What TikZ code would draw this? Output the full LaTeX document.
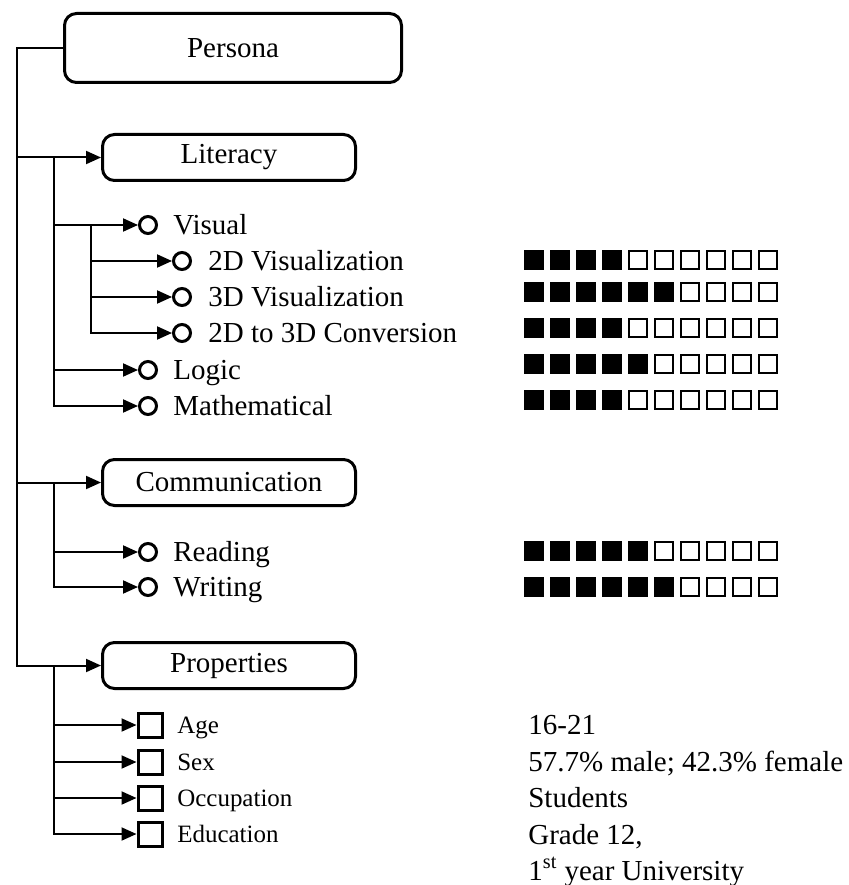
\documentclass[tikz,border=0pt]{standalone}
\usepackage{fontspec}
\setmainfont{Liberation Serif}
\usetikzlibrary{arrows.meta}

\tikzstyle{box}=[draw,rounded corners=0.24cm,line width=0.06cm,minimum width=5.06cm,minimum height=0.92cm,inner sep=0,font=\fontsize{16.5}{19}\selectfont]
\tikzstyle{link}=[line width=0.04cm,-{Triangle[length=0.3cm,width=0.26cm]}]
\tikzstyle{dot}=[draw,circle,line width=0.06cm,minimum size=0.34cm,inner sep=0]
\tikzstyle{tick}=[draw,rectangle,line width=0.06cm,minimum size=0.48cm,inner sep=0]
\tikzstyle{txt}=[anchor=base west,inner sep=0,font=\fontsize{16.5}{19}\selectfont]
\tikzstyle{small}=[anchor=base west,inner sep=0,font=\fontsize{14.2}{17}\selectfont]
\tikzstyle{full}=[draw,fill=black,line width=0.04cm,minimum size=0.36cm,inner sep=0]
\tikzstyle{empty}=[draw,line width=0.04cm,minimum size=0.36cm,inner sep=0]

% one row of ten squares: name, y, number of filled squares
\newcommand{\ratingrow}[3]{%
  \foreach \i in {1,...,10}{%
    \ifnum\i>#3
      \node[empty] (#1-\i) at ({10.68+0.52*(\i-1)},#2) {};
    \else
      \node[full] (#1-\i) at ({10.68+0.52*(\i-1)},#2) {};
    \fi}}

\begin{document}
\begin{tikzpicture}
\useasboundingbox (0,0) rectangle (16.96,-17.70);

\node[box,minimum width=6.74cm,minimum height=1.38cm] at (4.66,-0.96) (persona) {Persona};
\node[box] at (4.58,-3.15)  (lit)  {Literacy};
\node[box] at (4.58,-9.65)  (comm) {Communication};
\node[box] at (4.58,-13.31) (prop) {Properties};
\draw[link] (persona.west) -- +(-0.93,0) |- (lit.west);
\draw[link] (persona.west) -- +(-0.93,0) |- (comm.west);
\draw[link] (persona.west) -- +(-0.93,0) |- (prop.west);

% literacy
\node[dot] at (2.96,-4.50) (visual) {};
\node[dot] at (3.64,-5.22) (viz2d)  {};
\node[dot] at (3.64,-5.94) (viz3d)  {};
\node[dot] at (3.64,-6.66) (conv)   {};
\node[dot] at (2.96,-7.40) (logic)  {};
\node[dot] at (2.96,-8.12) (math)   {};
\node[txt] at (3.46,-4.69) (visual-t) {Visual};
\node[txt] at (4.16,-5.41) (viz2d-t)  {2D Visualization};
\node[txt] at (4.16,-6.13) (viz3d-t)  {3D Visualization};
\node[txt] at (4.16,-6.85) (conv-t)   {2D to 3D Conversion};
\node[txt] at (3.46,-7.59) (logic-t)  {Logic};
\node[txt] at (3.46,-8.31) (math-t)   {Mathematical};
\draw[link] (lit.west) ++(-0.94,0) |- (visual);
\draw[link] (lit.west) ++(-0.94,0) |- (logic);
\draw[link] (lit.west) ++(-0.94,0) |- (math);
\draw[link] (visual.west) ++(-0.94,0) |- (viz2d);
\draw[link] (visual.west) ++(-0.94,0) |- (viz3d);
\draw[link] (visual.west) ++(-0.94,0) |- (conv);

% communication
\node[dot] at (2.96,-11.04) (reading) {};
\node[dot] at (2.96,-11.74) (writing) {};
\node[txt] at (3.46,-11.23) (reading-t) {Reading};
\node[txt] at (3.46,-11.93) (writing-t) {Writing};
\draw[link] (comm.west) ++(-0.94,0) |- (reading);
\draw[link] (comm.west) ++(-0.94,0) |- (writing);

% properties
\node[tick] at (3.0,-14.50) (age) {};
\node[tick] at (3.0,-15.24) (sex) {};
\node[tick] at (3.0,-15.96) (occ) {};
\node[tick] at (3.0,-16.68) (edu) {};
\node[small] at (3.54,-14.66) (age-t) {Age};
\node[small] at (3.54,-15.40) (sex-t) {Sex};
\node[small] at (3.54,-16.12) (occ-t) {Occupation};
\node[small] at (3.54,-16.84) (edu-t) {Education};
\draw[link] (prop.west) ++(-0.94,0) |- (age);
\draw[link] (prop.west) ++(-0.94,0) |- (sex);
\draw[link] (prop.west) ++(-0.94,0) |- (occ);
\draw[link] (prop.west) ++(-0.94,0) |- (edu);

\node[txt] at (10.56,-14.68) (age-v)  {16-21};
\node[txt] at (10.56,-15.42) (sex-v)  {57.7\% male; 42.3\% female};
\node[txt] at (10.56,-16.14) (occ-v)  {Students};
\node[txt] at (10.56,-16.88) (edu-v)  {Grade 12,};
\node[txt] at (10.56,-17.60) (edu-v2) {1\textsuperscript{st} year University};

% ratings
\ratingrow{r-viz2d}{-5.20}{4}
\ratingrow{r-viz3d}{-5.84}{6}
\ratingrow{r-conv}{-6.56}{4}
\ratingrow{r-logic}{-7.28}{5}
\ratingrow{r-math}{-8.00}{4}
\ratingrow{r-reading}{-11.02}{5}
\ratingrow{r-writing}{-11.74}{6}
\end{tikzpicture}
\end{document}
